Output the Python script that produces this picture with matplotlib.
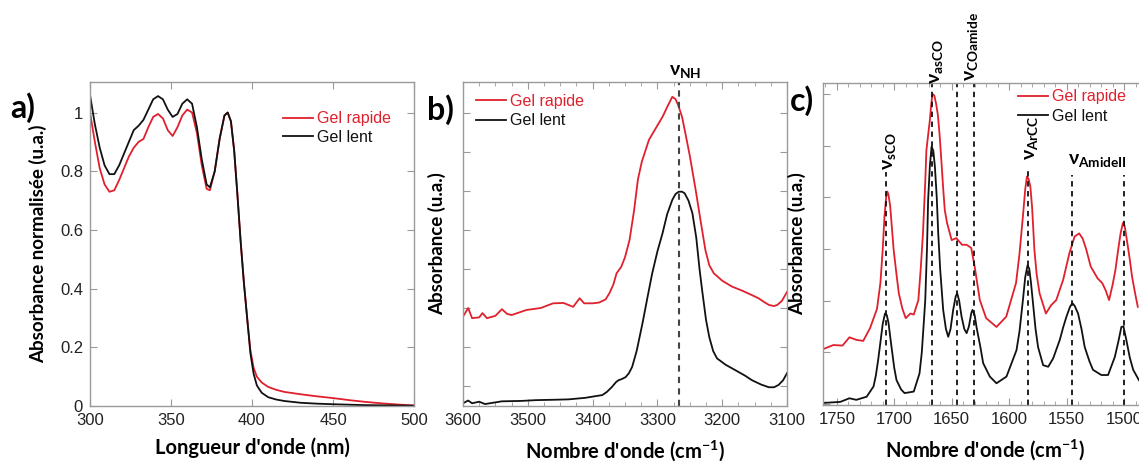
import matplotlib
matplotlib.use("Agg")
import matplotlib.pyplot as plt
from matplotlib.ticker import MultipleLocator

plt.rcParams['font.family'] = ['Liberation Sans', 'DejaVu Sans']

RED = "#e0202c"
BLACK = "#111111"
GRAY = "#9a9a9a"

# ---- a) UV-vis
uv_x_rapide = [300, 303, 306, 309, 312, 315, 318, 321, 324, 327, 330, 333, 336, 339, 342,
               345, 348, 351, 354, 357, 360, 363, 366, 369, 372, 374, 377, 380, 383, 385,
               387, 389, 391, 393, 395, 397, 399, 401, 403, 406, 410, 415, 420, 430, 440,
               450, 460, 470, 480, 490, 500]
uv_y_rapide = [1.00, 0.90, 0.81, 0.755, 0.73, 0.735, 0.77, 0.81, 0.85, 0.88, 0.90, 0.91, 0.95,
               0.985, 0.995, 0.98, 0.94, 0.92, 0.95, 0.99, 1.01, 1.0, 0.93, 0.82, 0.74, 0.735,
               0.80, 0.91, 0.99, 1.0, 0.97, 0.87, 0.72, 0.56, 0.42, 0.30, 0.19, 0.13, 0.10,
               0.08, 0.065, 0.055, 0.048, 0.04, 0.033, 0.027, 0.02, 0.014, 0.009, 0.005, 0.002]
uv_x_lent = [300, 303, 306, 309, 312, 315, 318, 321, 324, 327, 330, 333, 336, 339, 342,
             345, 348, 351, 354, 357, 360, 363, 366, 369, 372, 374, 377, 380, 383, 385,
             387, 389, 391, 393, 395, 397, 399, 401, 403, 406, 410, 415, 420, 430, 440,
             450, 470, 500]
uv_y_lent = [1.06, 0.96, 0.88, 0.82, 0.79, 0.79, 0.82, 0.86, 0.90, 0.94, 0.955, 0.975, 1.01,
             1.045, 1.056, 1.045, 1.01, 0.985, 0.995, 1.03, 1.045, 1.03, 0.95, 0.84, 0.755,
             0.745, 0.80, 0.91, 0.99, 1.0, 0.97, 0.87, 0.72, 0.56, 0.42, 0.30, 0.18, 0.11,
             0.07, 0.045, 0.03, 0.022, 0.017, 0.011, 0.008, 0.006, 0.003, 0.001]

# ---- b) IR, NH region
nh_x_rapide = [3600, 3592, 3586, 3575, 3570, 3563, 3550, 3540, 3532, 3525, 3502, 3480, 3461,
               3445, 3430, 3420, 3413, 3400, 3390, 3380, 3374, 3368, 3363, 3356, 3350, 3343,
               3336, 3330, 3324, 3313, 3302, 3292, 3284, 3277, 3272, 3268, 3262, 3257, 3250,
               3241, 3233, 3226, 3220, 3213, 3200, 3185, 3170, 3154, 3144, 3135, 3128, 3120,
               3115, 3108, 3100]
nh_y_rapide = [0.278, 0.30, 0.274, 0.276, 0.287, 0.274, 0.280, 0.297, 0.285, 0.282, 0.295,
               0.300, 0.312, 0.313, 0.303, 0.325, 0.312, 0.312, 0.314, 0.322, 0.338, 0.36,
               0.389, 0.405, 0.43, 0.474, 0.55, 0.63, 0.675, 0.731, 0.762, 0.790, 0.818,
               0.841, 0.835, 0.82, 0.79, 0.749, 0.69, 0.603, 0.52, 0.449, 0.41, 0.389, 0.37,
               0.355, 0.345, 0.333, 0.325, 0.315, 0.308, 0.305, 0.308, 0.318, 0.341]
nh_x_lent = [3600, 3592, 3586, 3575, 3566, 3540, 3510, 3488, 3460, 3437, 3411, 3400, 3385,
             3378, 3370, 3364, 3360, 3355, 3349, 3344, 3339, 3332, 3323, 3315, 3308, 3300,
             3292, 3285, 3277, 3272, 3267, 3262, 3258, 3252, 3246, 3240, 3235, 3231, 3225,
             3220, 3214, 3208, 3195, 3180, 3165, 3154, 3140, 3128, 3120, 3113, 3106, 3100]
nh_y_lent = [0.056, 0.063, 0.056, 0.060, 0.054, 0.061, 0.062, 0.064, 0.065, 0.066, 0.070,
             0.073, 0.077, 0.085, 0.098, 0.11, 0.115, 0.118, 0.123, 0.133, 0.149, 0.19, 0.261,
             0.33, 0.389, 0.445, 0.492, 0.54, 0.577, 0.592, 0.598, 0.598, 0.594, 0.575, 0.543,
             0.48, 0.40, 0.346, 0.27, 0.226, 0.19, 0.171, 0.155, 0.141, 0.127, 0.115, 0.104,
             0.097, 0.097, 0.103, 0.115, 0.133]
nh_peak = 3267

# ---- c) IR, carbonyl region
co_x_rapide = [1762, 1753, 1745, 1739, 1733, 1727, 1721, 1715, 1712, 1710, 1708.5, 1707,
               1706, 1705, 1703.5, 1702, 1700.5, 1698, 1696, 1693, 1690, 1686, 1683, 1679,
               1677, 1675, 1673, 1672, 1670, 1669, 1668, 1667, 1666, 1665, 1663.5, 1662,
               1660.5, 1659, 1657.5, 1656, 1654, 1650, 1646, 1641, 1637, 1633, 1630, 1625.5,
               1620, 1611, 1602.5, 1594, 1591, 1588, 1586, 1584.5, 1583, 1581.5, 1580, 1578,
               1576, 1573.5, 1568, 1563.5, 1559, 1553, 1547.5, 1543, 1539, 1536, 1533, 1529,
               1523, 1519, 1516, 1513, 1510, 1507.5, 1505, 1503, 1501, 1499.5, 1497.5, 1495,
               1493, 1490, 1488]
co_y_rapide = [0.106, 0.114, 0.113, 0.129, 0.124, 0.122, 0.147, 0.184, 0.235, 0.30, 0.363,
               0.40, 0.411, 0.405, 0.382, 0.34, 0.298, 0.25, 0.214, 0.185, 0.166, 0.175, 0.173,
               0.201, 0.26, 0.330, 0.43, 0.491, 0.53, 0.549, 0.575, 0.595, 0.599, 0.596, 0.58,
               0.559, 0.52, 0.472, 0.42, 0.375, 0.350, 0.317, 0.321, 0.308, 0.308, 0.302,
               0.266, 0.201, 0.166, 0.149, 0.169, 0.234, 0.29, 0.363, 0.415, 0.440, 0.435,
               0.420, 0.38, 0.298, 0.25, 0.214, 0.175, 0.191, 0.201, 0.240, 0.292, 0.324,
               0.330, 0.32, 0.30, 0.266, 0.243, 0.234, 0.22, 0.201, 0.23, 0.259, 0.30, 0.330,
               0.350, 0.345, 0.317, 0.28, 0.246, 0.21, 0.188]
co_x_lent = [1762, 1747, 1739, 1733, 1724, 1718, 1716, 1714, 1712, 1710, 1708, 1706.5, 1705,
             1703.5, 1702, 1700, 1698, 1694, 1691, 1683, 1678, 1676, 1674.5, 1673, 1671.5,
             1670.5, 1669, 1667.5, 1666, 1664.6, 1663, 1661.7, 1660, 1657.4, 1655, 1653,
             1651, 1648.7, 1646.5, 1645.2, 1643.5, 1641.4, 1639, 1637, 1635, 1633, 1631.9,
             1630, 1628.4, 1625, 1622.6, 1616.8, 1611, 1602.3, 1593.6, 1591, 1588, 1586,
             1584, 1582.5, 1581, 1579, 1577, 1574.8, 1570.4, 1566, 1561.7, 1555.9, 1553,
             1550.1, 1547, 1545, 1543, 1540, 1537, 1534.2, 1530, 1527, 1519.7, 1513.9, 1508,
             1505, 1502.3, 1500.5, 1498, 1495, 1492, 1487]
co_y_lent = [0.002, 0.004, 0.011, 0.008, 0.014, 0.034, 0.055, 0.085, 0.12, 0.155, 0.175,
             0.172, 0.157, 0.13, 0.104, 0.07, 0.046, 0.028, 0.021, 0.024, 0.059, 0.1, 0.15,
             0.201, 0.3, 0.395, 0.46, 0.498, 0.49, 0.459, 0.40, 0.330, 0.26, 0.182, 0.145,
             0.130, 0.145, 0.182, 0.208, 0.214, 0.2, 0.169, 0.145, 0.137, 0.15, 0.175, 0.182,
             0.172, 0.149, 0.11, 0.079, 0.053, 0.040, 0.053, 0.104, 0.14, 0.201, 0.245, 0.268,
             0.262, 0.235, 0.19, 0.145, 0.110, 0.075, 0.072, 0.088, 0.124, 0.148, 0.169,
             0.188, 0.195, 0.19, 0.175, 0.145, 0.110, 0.082, 0.066, 0.056, 0.056, 0.091, 0.12,
             0.149, 0.15, 0.124, 0.09, 0.066, 0.046]

band_pos = [1707, 1667, 1645, 1631, 1584, 1545, 1500]
band_top = [0.724, 1.0, 1.0, 1.0, 0.73, 0.714, 0.714]

W, H = 1139, 461
fig = plt.figure(figsize=(W / 100, H / 100), dpi=100)


def px_axes(left, top, right, bottom):
    return fig.add_axes([left / W, 1 - bottom / H, (right - left) / W, (bottom - top) / H])


def style(ax):
    for s in ax.spines.values():
        s.set_color(GRAY)
        s.set_linewidth(1.0)
    ax.tick_params(which='both', direction='in', top=True, right=True, color=GRAY,
                   labelsize=12, labelcolor="#222222", pad=5)
    ax.tick_params(which='major', length=5)
    ax.tick_params(which='minor', length=3)


xlabel_font = dict(family=['Lato', 'DejaVu Sans'], fontweight='bold', fontsize=14.5)
ylabel_font = dict(family=['Lato', 'DejaVu Sans'], fontweight='bold', fontsize=13.5)
panel_font = dict(family=['Lato', 'DejaVu Sans'], fontweight='bold', fontsize=23)
nu_font = dict(family=['Lato', 'DejaVu Sans'], fontweight='bold', fontsize=14)
plt.rcParams['mathtext.fontset'] = 'custom'
plt.rcParams['mathtext.bf'] = 'Lato:bold'
plt.rcParams['mathtext.rm'] = 'Lato'

leg_kw = dict(loc='upper left', frameon=False, labelcolor='linecolor', fontsize=11.5,
              handlelength=1.9, handletextpad=0.2, borderaxespad=0, borderpad=0)

# ---------------- a)
ax1 = px_axes(90, 82, 414, 406)
ax1.plot(uv_x_rapide, uv_y_rapide, color=RED, lw=1.3, label="Gel rapide")
ax1.plot(uv_x_lent, uv_y_lent, color=BLACK, lw=1.3, label="Gel lent")
ax1.set_xlim(300, 500)
ax1.set_ylim(0, 1.104)
ax1.xaxis.set_major_locator(MultipleLocator(50))
ax1.set_yticks([0, 0.2, 0.4, 0.6, 0.8, 1.0])
ax1.set_yticklabels(["0", "0.2", "0.4", "0.6", "0.8", "1"])
style(ax1)
ax1.set_xlabel("Longueur d'onde (nm)", labelpad=7, **xlabel_font)
ax1.set_ylabel("Absorbance normalisée (u.a.)", labelpad=9, **ylabel_font)
ax1.legend(bbox_to_anchor=(0.596, 0.909), labelspacing=0.2, **leg_kw)

# ---------------- b)
ax2 = px_axes(463, 82, 787, 406)
ax2.plot(nh_x_rapide, nh_y_rapide, color=RED, lw=1.3, label="Gel rapide")
ax2.plot(nh_x_lent, nh_y_lent, color=BLACK, lw=1.3, label="Gel lent")
ax2.axvline(nh_peak, color="#444444", lw=1.5, ls=(0, (3, 2.5)))
ax2.set_xlim(3600, 3100)
ax2.set_ylim(0.049, 0.879)
ax2.xaxis.set_major_locator(MultipleLocator(100))
ax2.xaxis.set_minor_locator(MultipleLocator(25))
ax2.yaxis.set_major_locator(MultipleLocator(0.1))
ax2.set_yticklabels([])
style(ax2)
ax2.set_xlabel("Nombre d'onde (cm$^{\\mathbf{-1}}$)", labelpad=7, **xlabel_font)
ax2.set_ylabel("Absorbance (u.a.)", labelpad=7, **ylabel_font)
ax2.legend(bbox_to_anchor=(0.04, 0.964), labelspacing=0.3, **leg_kw)
ax2.text(3257, 1.031, "ν$_{\\mathbf{NH}}$", transform=ax2.get_xaxis_transform(),
         ha='center', va='center', **nu_font)

# ---------------- c)
ax3 = px_axes(823, 83, 1147, 405)
ax3.plot(co_x_rapide, co_y_rapide, color=RED, lw=1.3, label="Gel rapide")
ax3.plot(co_x_lent, co_y_lent, color=BLACK, lw=1.3, label="Gel lent")
for xb, yt in zip(band_pos, band_top):
    ax3.axvline(xb, ymin=0, ymax=yt, color=BLACK, lw=1.3, ls=(0, (3, 2.5)))
ax3.set_xlim(1762, 1480)
ax3.set_ylim(-0.002, 0.621)
ax3.xaxis.set_major_locator(MultipleLocator(50))
ax3.xaxis.set_minor_locator(MultipleLocator(10))
ax3.yaxis.set_major_locator(MultipleLocator(0.1))
ax3.set_yticklabels([])
style(ax3)
ax3.set_xlabel("Nombre d'onde (cm$^{\\mathbf{-1}}$)", labelpad=7, **xlabel_font)
ax3.set_ylabel("Absorbance (u.a.)", labelpad=7, **ylabel_font)
ax3.legend(bbox_to_anchor=(0.602, 0.981), labelspacing=0.3, **leg_kw)

xt = ax3.get_xaxis_transform()
ax3.text(1703.7, 0.79, "ν$_{\\mathbf{sCO}}$", transform=xt, rotation=90,
         ha='center', va='center', **nu_font)
ax3.text(1662.9, 1.065, "ν$_{\\mathbf{asCO}}$", transform=xt, rotation=90,
         ha='center', va='center', **nu_font)
ax3.text(1632.4, 1.112, "ν$_{\\mathbf{COamide}}$", transform=xt, rotation=90,
         ha='center', va='center', **nu_font)
ax3.text(1579.4, 0.83, "ν$_{\\mathbf{ArCC}}$", transform=xt, rotation=90,
         ha='center', va='center', **nu_font)
ax3.text(1522.9, 0.758, "ν$_{\\mathbf{AmideII}}$", transform=xt,
         ha='center', va='center', **nu_font)

# panel letters
fig.text(10 / W, 1 - 108 / H, "a)", ha='left', va='center', **panel_font)
fig.text(427 / W, 1 - 110 / H, "b)", ha='left', va='center', **panel_font)
fig.text(790 / W, 1 - 101 / H, "c)", ha='left', va='center', **panel_font)

fig.savefig("out.png", dpi=100)
